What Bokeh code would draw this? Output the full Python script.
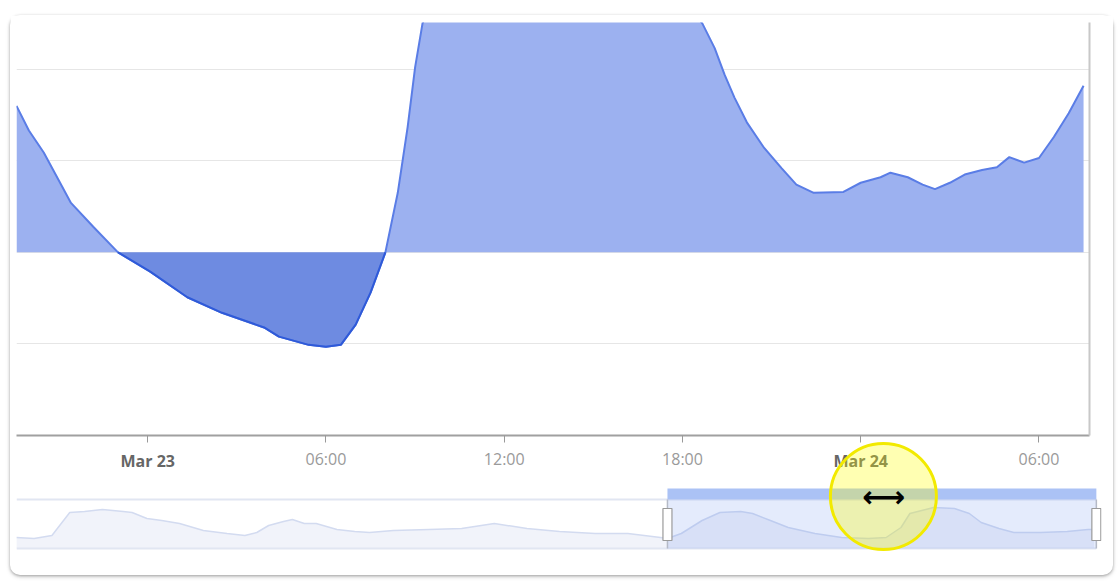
import numpy as np
import pandas as pd
from bokeh.plotting import figure
from bokeh.layouts import column
from bokeh.models import (Range1d, LinearAxis, FixedTicker, Grid,
                          CustomJSTickFormatter, ColumnDataSource)
from bokeh.core.properties import value
from bokeh.embed import file_html
from bokeh.resources import INLINE

# ---------------- data ----------------
main_times = [
    "2024-03-22 19:35", "2024-03-22 20:00", "2024-03-22 20:30", "2024-03-22 21:00",
    "2024-03-22 21:25", "2024-03-22 22:10", "2024-03-22 23:00", "2024-03-23 00:05",
    "2024-03-23 01:20", "2024-03-23 02:30", "2024-03-23 03:55", "2024-03-23 04:25",
    "2024-03-23 05:25", "2024-03-23 06:00", "2024-03-23 06:30", "2024-03-23 07:00",
    "2024-03-23 07:30", "2024-03-23 08:00", "2024-03-23 08:25", "2024-03-23 08:45",
    "2024-03-23 09:00", "2024-03-23 09:15", "2024-03-23 10:00", "2024-03-23 11:00",
    "2024-03-23 12:00", "2024-03-23 13:00", "2024-03-23 14:00", "2024-03-23 15:00",
    "2024-03-23 16:00", "2024-03-23 17:00", "2024-03-23 18:00", "2024-03-23 18:40",
    "2024-03-23 19:05", "2024-03-23 19:25", "2024-03-23 19:45", "2024-03-23 20:10",
    "2024-03-23 20:45", "2024-03-23 21:20", "2024-03-23 21:50", "2024-03-23 22:25",
    "2024-03-23 23:25", "2024-03-24 00:00", "2024-03-24 00:40", "2024-03-24 01:00",
    "2024-03-24 01:35", "2024-03-24 02:05", "2024-03-24 02:30", "2024-03-24 03:00",
    "2024-03-24 03:30", "2024-03-24 04:05", "2024-03-24 04:35", "2024-03-24 05:00",
    "2024-03-24 05:30", "2024-03-24 06:00", "2024-03-24 06:30", "2024-03-24 07:00",
    "2024-03-24 07:30",
]
main_values = [
    1.60, 1.33, 1.09, 0.79,
    0.54, 0.28, 0.00, -0.21,
    -0.49, -0.66, -0.82, -0.92,
    -1.01, -1.03, -1.01, -0.79,
    -0.44, 0.00, 0.65, 1.37,
    2.02, 2.50, 3.30, 3.80,
    4.10, 4.20, 4.10, 3.90,
    3.60, 3.20, 2.80, 2.50,
    2.23, 1.94, 1.69, 1.42,
    1.14, 0.92, 0.74, 0.65,
    0.66, 0.76, 0.82, 0.87,
    0.82, 0.74, 0.69, 0.76,
    0.85, 0.90, 0.93, 1.04,
    0.98, 1.03, 1.26, 1.52,
    1.82,
]

nav_times = [
    "2024-03-20 12:45", "2024-03-20 14:15", "2024-03-20 15:45", "2024-03-20 17:15",
    "2024-03-20 18:30", "2024-03-20 20:00", "2024-03-20 21:45", "2024-03-20 22:30",
    "2024-03-20 23:45", "2024-03-21 01:00", "2024-03-21 02:30", "2024-03-21 04:30",
    "2024-03-21 06:30", "2024-03-21 08:00", "2024-03-21 09:00", "2024-03-21 10:00",
    "2024-03-21 11:15", "2024-03-21 12:00", "2024-03-21 13:00", "2024-03-21 14:00",
    "2024-03-21 15:45", "2024-03-21 17:15", "2024-03-21 18:30", "2024-03-21 20:30",
    "2024-03-21 23:30", "2024-03-22 02:15", "2024-03-22 05:00", "2024-03-22 07:45",
    "2024-03-22 10:30", "2024-03-22 13:30", "2024-03-22 16:15", "2024-03-22 19:00",
    "2024-03-22 19:35", "2024-03-22 20:45", "2024-03-22 22:30", "2024-03-23 00:00",
    "2024-03-23 01:45", "2024-03-23 02:45", "2024-03-23 04:15", "2024-03-23 05:45",
    "2024-03-23 08:00", "2024-03-23 10:15", "2024-03-23 12:30", "2024-03-23 14:00",
    "2024-03-23 15:15", "2024-03-23 16:00", "2024-03-23 17:00", "2024-03-23 18:00",
    "2024-03-23 19:45", "2024-03-23 21:00", "2024-03-23 22:00", "2024-03-23 23:30",
    "2024-03-24 00:45", "2024-03-24 03:00", "2024-03-24 05:15", "2024-03-24 07:00",
    "2024-03-24 07:30",
]
nav_values = [
    1.1, 1.0, 1.3, 3.6,
    3.7, 3.9, 3.7, 3.6,
    3.0, 2.8, 2.5, 1.8,
    1.5, 1.3, 1.6, 2.3,
    2.7, 2.9, 2.5, 2.5,
    1.9, 1.7, 1.6, 1.8,
    1.9, 2.0, 2.5, 2.0,
    1.7, 1.5, 1.5, 1.1,
    1.0, 1.5, 2.8, 3.6,
    3.7, 3.5, 2.8, 2.1,
    1.5, 1.1, 1.0, 1.1,
    2.1, 3.5, 3.8, 4.1,
    4.0, 3.5, 2.6, 2.0,
    1.6, 1.6, 1.7, 1.9,
    1.9,
]

view_start = "2024-03-22 19:35"
view_end = "2024-03-24 07:42"
nav_start = "2024-03-20 12:46"
nav_end = "2024-03-24 08:08"
hour_ticks = ["2024-03-23 00:00", "2024-03-23 06:00", "2024-03-23 12:00",
              "2024-03-23 18:00", "2024-03-24 00:00", "2024-03-24 06:00"]
day_ticks = ["2024-03-23 00:00", "2024-03-24 00:00"]
y_grid = [-1, 0, 1, 2]
y_min, y_max = -2.0, 2.51

cursor_time = "2024-03-23 13:46"
cursor_level = 5.2

# ---------------- helpers / styles ----------------
def ms(s):
    return pd.Timestamp(s).timestamp() * 1000.0

FONT = "Open Sans"
NAV_TOP = 4.9
NAV_BAR = 1.1

hour_fmt = CustomJSTickFormatter(code="""
const d = new Date(tick);
const h = d.getUTCHours();
return h === 0 ? "" : String(h).padStart(2, "0") + ":00";
""")
day_fmt = CustomJSTickFormatter(code="""
const m = ["Jan","Feb","Mar","Apr","May","Jun","Jul","Aug","Sep","Oct","Nov","Dec"];
const d = new Date(tick);
return m[d.getUTCMonth()] + " " + d.getUTCDate();
""")

# ---------------- main chart ----------------
p = figure(width=1103, height=463,
           x_range=Range1d(ms(view_start), ms(view_end)),
           y_range=Range1d(y_min, y_max),
           x_axis_type=None, y_axis_type=None,
           output_backend="svg", toolbar_location=None,
           min_border_left=6, min_border_right=24,
           min_border_top=7, min_border_bottom=43,
           frame_align=False)
p.outline_line_color = None
p.background_fill_color = "white"
p.border_fill_color = "white"

p.add_layout(Grid(dimension=1, ticker=FixedTicker(ticks=y_grid),
                  grid_line_color="#e6e6e6", grid_line_width=1))

v = np.array(main_values, dtype=float)
src = ColumnDataSource(dict(
    t=pd.to_datetime(main_times),
    v=v,
    pos=np.maximum(v, 0),
    neg=np.minimum(v, 0),
    zero=np.zeros_like(v),
    vneg=np.where(v <= 0, v, np.nan),
))
p.varea(x="t", y1="zero", y2="pos", source=src, fill_color="#9cb1f0")
p.varea(x="t", y1="neg", y2="zero", source=src, fill_color="#6e8be1")
p.line(x="t", y="v", source=src, line_color="#5a7de6", line_width=2)
p.line(x="t", y="vneg", source=src, line_color="#2f5ad8", line_width=2)

xa = LinearAxis(ticker=FixedTicker(ticks=[ms(t) for t in hour_ticks]),
                formatter=hour_fmt,
                axis_line_color="#a0a0a0", axis_line_width=2,
                major_tick_line_color="#999999", major_tick_out=7, major_tick_in=0,
                minor_tick_out=0, minor_tick_in=0,
                major_label_text_font=FONT, major_label_text_font_size="16px",
                major_label_text_color="#9a9a9a", major_label_standoff=5)
p.add_layout(xa, "below")

da = LinearAxis(ticker=FixedTicker(ticks=[ms(t) for t in day_ticks]),
                formatter=day_fmt,
                axis_line_color=None, major_tick_line_color=None,
                major_tick_out=0, major_tick_in=0, minor_tick_out=0, minor_tick_in=0,
                major_label_text_font=FONT, major_label_text_font_size="16px",
                major_label_text_font_style="bold",
                major_label_text_color="#666666", major_label_standoff=-23)
p.add_layout(da, "below")

ra = LinearAxis(ticker=FixedTicker(ticks=[]), axis_line_color="#c8c8c8",
                axis_line_width=2, major_tick_out=0, major_tick_in=0,
                minor_tick_out=0, minor_tick_in=0,
                major_label_text_font_size="0px")
p.add_layout(ra, "right")

# ---------------- navigator ----------------
n = figure(width=1103, height=137,
           x_range=Range1d(ms(nav_start), ms(nav_end)),
           y_range=Range1d(-0.3, 10.8),
           x_axis_type=None, y_axis_type=None,
           output_backend="svg", toolbar_location=None,
           min_border_left=6, min_border_right=12,
           min_border_top=2, min_border_bottom=24,
           margin=(-40, 0, 0, 0), frame_align=False)
n.outline_line_color = None
n.background_fill_alpha = 0
n.border_fill_alpha = 0

nsrc = ColumnDataSource(dict(t=pd.to_datetime(nav_times),
                             v=np.array(nav_values, dtype=float),
                             zero=np.zeros(len(nav_values))))
n.varea(x="t", y1="zero", y2="v", source=nsrc, fill_color="#f1f3fa")
n.line(x="t", y="v", source=nsrc, line_color="#d3dbf0", line_width=1.5)

vs, ve, ns = ms(view_start), ms(view_end), ms(nav_start)
# outline top / bottom
n.segment(x0=[ns, ns], x1=[ve, ve], y0=[0, NAV_TOP], y1=[0, NAV_TOP],
          line_color="#e1e6f2", line_width=2)
# selection mask
n.quad(left=[vs], right=[ve], bottom=[0], top=[NAV_TOP],
       fill_color="#4a78e8", fill_alpha=0.15, line_color=None)
# selection bar
n.quad(left=[vs], right=[ve], bottom=[NAV_TOP], top=[NAV_TOP + NAV_BAR],
       fill_color="#abc2f5", line_color=None)
# selection edges
n.segment(x0=[vs, ve], x1=[vs, ve], y0=[0, 0], y1=[NAV_TOP, NAV_TOP],
          line_color="#b5bac7", line_width=1.5)
# handles
n.rect(x=[vs, ve], y=[2.4, 2.4], width=9, height=32,
       width_units="screen", height_units="screen",
       fill_color="white", line_color="#9a9a9a", line_width=1.2)

# cursor highlight
ct = ms(cursor_time)
n.scatter(x=[ct], y=[cursor_level], size=106, marker="circle",
          fill_color="#ffff00", fill_alpha=0.3,
          line_color="#f2ea00", line_width=3)
n.text(x=[ct], y=[cursor_level], text=["⟷"], text_align="center",
       text_baseline="middle", text_font=value("DejaVu Sans"),
       text_font_size="30px", text_font_style="bold", text_color="black")

layout = column(p, n, width=1103, margin=(15, 0, 0, 10),
                styles={"background-color": "white",
                        "border-radius": "10px",
                        "box-shadow": "0 1px 3px rgba(0,0,0,0.30), 0 2px 5px rgba(0,0,0,0.12)"})

open("out.html", "w").write(file_html(layout, INLINE))
